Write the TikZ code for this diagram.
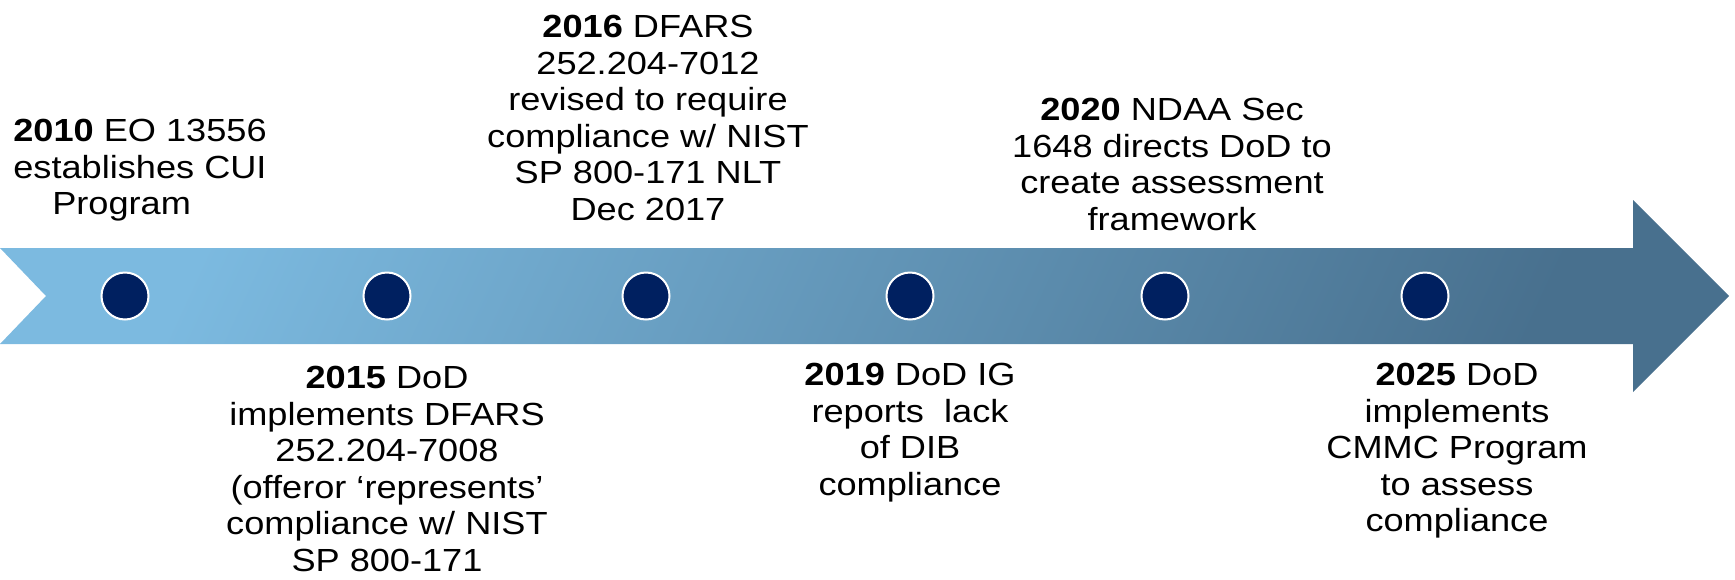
\documentclass[tikz,border=0pt]{standalone}
\usepackage{fontspec}
\setmainfont{Liberation Sans}[FakeStretch=1.13]
\definecolor{navy}{RGB}{0,32,96}
\definecolor{arrowlight}{RGB}{124,186,224}
\definecolor{arrowdark}{RGB}{72,112,142}
\begin{document}
\begin{tikzpicture}[x=1pt,y=-1pt,
  event/.style={align=center, inner sep=0pt, anchor=north,
    font=\fontsize{32}{36.5}\selectfont},
  dot/.style={circle, fill=navy, draw=white, line width=2pt,
    minimum size=47pt, inner sep=0pt}]
\useasboundingbox (0,0) rectangle (1735,579);
% timeline arrow with notched tail
\shade[left color=arrowlight, right color=arrowdark, shading angle=65]
  (0,248) -- (1633,248) -- (1633,200) -- (1729,296) -- (1633,392)
  -- (1633,344) -- (0,344) -- (46,296) -- cycle;
% milestone markers
\node[dot] (d2010) at (125,296) {};
\node[dot] (d2015) at (387,296) {};
\node[dot] (d2016) at (646,296) {};
\node[dot] (d2019) at (910,296) {};
\node[dot] (d2020) at (1165,296) {};
\node[dot] (d2025) at (1425,296) {};
% milestone texts
\node[event] (t2010) at (140,119) {\textbf{2010} EO 13556\\establishes CUI\\Program\hspace*{1.15em}};
\node[event] (t2016) at (648,15) {\textbf{2016} DFARS\\252.204-7012\\revised to require\\compliance w/ NIST\\SP 800-171 NLT\\Dec 2017};
\node[event] (t2020) at (1172,98) {\textbf{2020} NDAA Sec\\1648 directs DoD to\\create assessment\\framework};
\node[event] (t2015) at (387,366) {\textbf{2015} DoD\\implements DFARS\\252.204-7008\\(offeror ‘represents’\\compliance w/ NIST\\SP 800-171};
\node[event] (t2019) at (910,363) {\textbf{2019} DoD IG\\reports\ \ lack\\of DIB\\compliance};
\node[event] (t2025) at (1457,363) {\textbf{2025} DoD\\implements\\CMMC Program\\to assess\\compliance};
\end{tikzpicture}
\end{document}
